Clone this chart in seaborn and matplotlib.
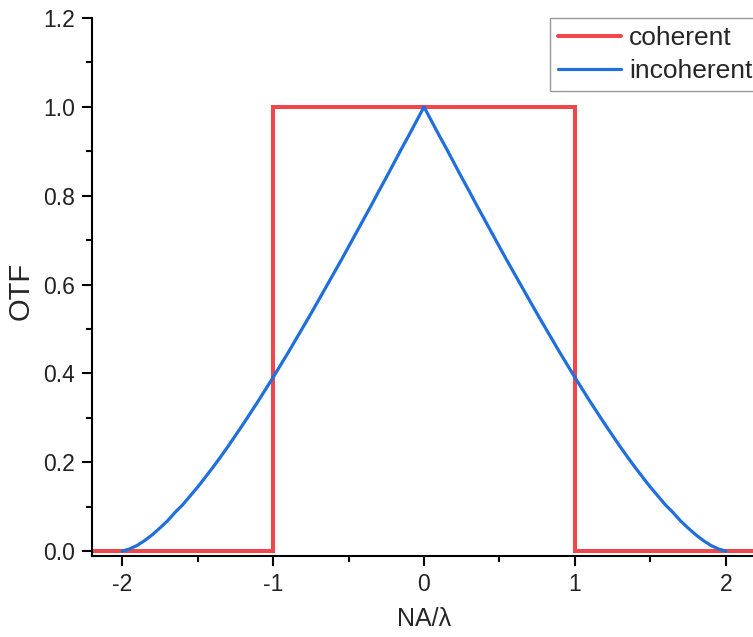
import matplotlib
matplotlib.use("Agg")
import matplotlib.pyplot as plt
import seaborn as sns
import pandas as pd
from matplotlib.ticker import MultipleLocator

# Coherent transfer function: a flat pass band between -NA/λ and +NA/λ
coherent_x = [-2.2, -1.0, -1.0, 1.0, 1.0, 2.2]
coherent_y = [0.0, 0.0, 1.0, 1.0, 0.0, 0.0]

# Incoherent OTF sampled every 0.05 from -2 to 2
incoherent_x = [round(-2.0 + 0.05 * i, 2) for i in range(81)]
incoherent_y = [
    0.000, 0.005, 0.013, 0.024, 0.037, 0.052, 0.068, 0.087, 0.104, 0.124,
    0.144, 0.166, 0.188, 0.211, 0.235, 0.260, 0.285, 0.311, 0.337, 0.364,
    0.391, 0.419, 0.447, 0.476, 0.505, 0.534, 0.564, 0.594, 0.624, 0.654,
    0.685, 0.716, 0.747, 0.778, 0.810, 0.841, 0.873, 0.905, 0.936, 0.968,
    1.000,
    0.968, 0.936, 0.905, 0.873, 0.841, 0.810, 0.778, 0.747, 0.716, 0.685,
    0.654, 0.624, 0.594, 0.564, 0.534, 0.505, 0.476, 0.447, 0.419, 0.391,
    0.364, 0.337, 0.311, 0.285, 0.260, 0.235, 0.211, 0.188, 0.166, 0.144,
    0.124, 0.104, 0.087, 0.068, 0.052, 0.037, 0.024, 0.013, 0.005, 0.000,
]

x_ticks = [-2, -1, 0, 1, 2]
y_ticks = [0.0, 0.2, 0.4, 0.6, 0.8, 1.0, 1.2]

sns.set_style("ticks")
plt.rcParams["font.family"] = ["Liberation Sans", "DejaVu Sans"]

W, H = 753, 637
fig = plt.figure(figsize=(W / 100, H / 100), dpi=100)
left, right, top, bottom = 92, 756, 18, 556
ax = fig.add_axes([left / W, 1 - bottom / H, (right - left) / W, (bottom - top) / H])

red = "#EF474B"
blue = "#1F6FDC"

coh = pd.DataFrame({"x": coherent_x, "y": coherent_y})
inc = pd.DataFrame({"x": incoherent_x, "y": incoherent_y})

sns.lineplot(data=coh, x="x", y="y", sort=False, estimator=None, color=red,
             linewidth=2.9, label="coherent", ax=ax, solid_joinstyle="miter")
sns.lineplot(data=inc, x="x", y="y", sort=False, estimator=None, color=blue,
             linewidth=2.3, label="incoherent", ax=ax)

ax.set_xlim(-2.2, 2.2)
ax.set_ylim(-0.011, 1.2)
ax.set_xticks(x_ticks)
ax.set_xticklabels([str(t) for t in x_ticks])
ax.set_yticks(y_ticks)
ax.set_yticklabels([f"{t:.1f}" for t in y_ticks])
ax.xaxis.set_minor_locator(MultipleLocator(0.5))
ax.yaxis.set_minor_locator(MultipleLocator(0.1))

for side in ("top", "right"):
    ax.spines[side].set_visible(False)
for side in ("left", "bottom"):
    ax.spines[side].set_linewidth(1.5)
    ax.spines[side].set_color("black")

ax.tick_params(which="major", direction="out", length=7.5, width=1.5,
               labelsize=16.5, colors="black", labelcolor="#222222", pad=5)
ax.tick_params(which="minor", direction="out", length=4, width=1.5, colors="black")

ax.set_xlabel("NA/λ", fontsize=18, va="center", ha="center")
ax.xaxis.set_label_coords(424 / W, 1 - 619 / H, transform=fig.transFigure)
ax.set_ylabel("OTF", fontsize=21, va="center", ha="center")
ax.yaxis.set_label_coords(21 / W, 1 - 291 / H, transform=fig.transFigure)

leg = ax.legend(loc="upper left", bbox_to_anchor=(550 / W, 1 - 18 / H),
                bbox_transform=fig.transFigure, borderaxespad=0, fontsize=19,
                handlelength=2.4, handletextpad=0.3, labelspacing=0.35,
                borderpad=0.3, fancybox=False, framealpha=1)
leg.get_frame().set_edgecolor("#999999")
leg.get_frame().set_linewidth(1.0)

fig.savefig("out.png", dpi=100)
